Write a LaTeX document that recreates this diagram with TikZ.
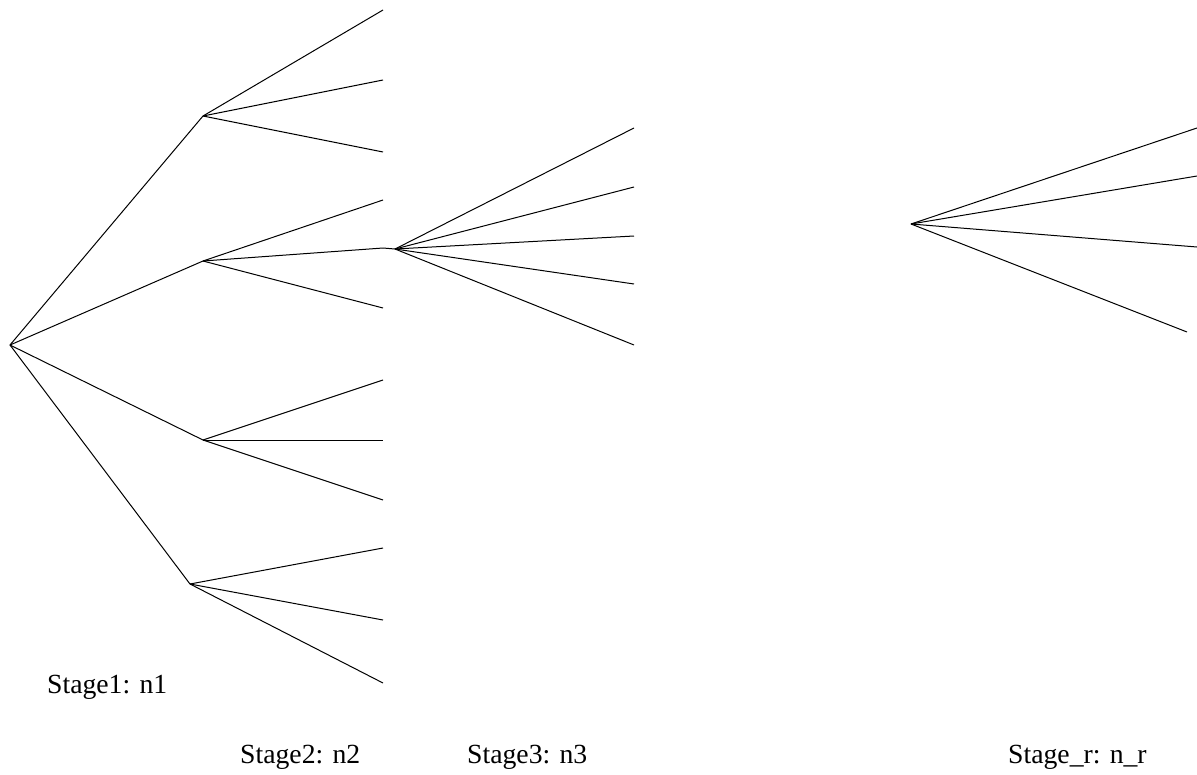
\documentclass[tikz,border=0pt]{standalone}
\usepackage{fontspec}
\setmainfont{Liberation Serif}
\begin{document}
\begin{tikzpicture}[x=1pt,y=-1pt,
  edge/.style={draw=black,line width=1pt},
  lbl/.style={anchor=base west,inner sep=0pt,font=\fontsize{27.7}{30}\selectfont}]
\useasboundingbox (0,0) rectangle (1197,774);
% nodes
\coordinate (r) at (10,345);
\coordinate (a) at (203,116);
\coordinate (b) at (203,261);
\coordinate (c) at (203,440);
\coordinate (d) at (190,584);
\coordinate (a1) at (383,10);
\coordinate (a2) at (383,80);
\coordinate (a3) at (383,152);
\coordinate (b1) at (383,200);
\coordinate (b2) at (383,248);
\coordinate (b3) at (383,308);
\coordinate (c1) at (383,380);
\coordinate (c2) at (383,440);
\coordinate (c3) at (383,500);
\coordinate (d1) at (383,548);
\coordinate (d2) at (383,620);
\coordinate (d3) at (383,683);
\coordinate (s) at (395,249);
\coordinate (s1) at (634,128);
\coordinate (s2) at (634,187);
\coordinate (s3) at (634,236);
\coordinate (s4) at (634,284);
\coordinate (s5) at (634,345);
\coordinate (t) at (911,224);
\coordinate (t1) at (1197,128);
\coordinate (t2) at (1197,176);
\coordinate (t3) at (1197,247);
\coordinate (t4) at (1187,332);
% edges
\foreach \x in {a,b,c,d} \draw[edge] (r) -- (\x);
\foreach \x in {a1,a2,a3} \draw[edge] (a) -- (\x);
\foreach \x in {b1,b2,b3} \draw[edge] (b) -- (\x);
\foreach \x in {c1,c2,c3} \draw[edge] (c) -- (\x);
\foreach \x in {d1,d2,d3} \draw[edge] (d) -- (\x);
\draw[edge] (b2) -- (s);
\foreach \x in {s1,s2,s3,s4,s5} \draw[edge] (s) -- (\x);
\foreach \x in {t1,t2,t3,t4} \draw[edge] (t) -- (\x);
% labels
\node[lbl] (l1) at (47,693) {Stage1: n1};
\node[lbl] (l2) at (240,763) {Stage2: n2};
\node[lbl] (l3) at (467,763) {Stage3: n3};
\node[lbl] (lr) at (1008,763) {Stage\_r: n\_r};
\end{tikzpicture}
\end{document}
